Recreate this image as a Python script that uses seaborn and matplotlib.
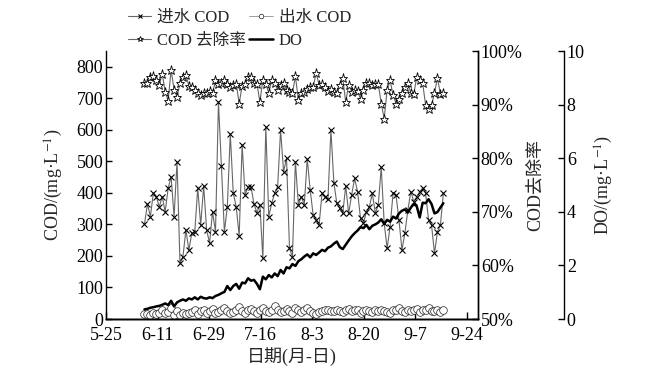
import numpy as np
import pandas as pd
import matplotlib
matplotlib.use("Agg")
import matplotlib.pyplot as plt
import matplotlib.dates as mdates
from matplotlib.ticker import FuncFormatter
import seaborn as sns

# -------------------- DATA --------------------
start_date = "2019-06-07"
tick_start = "2019-05-25"
tick_labels = ["5-25", "6-11", "6-29", "7-16", "8-3", "8-20", "9-7", "9-24"]

cod_in = [
    301, 365, 325, 400, 388, 356, 388, 340, 415, 451,
    325, 499, 178, 198, 282, 219, 272, 277, 415, 298,
    422, 282, 241, 340, 277, 689, 485, 277, 356, 587,
    399, 356, 263, 552, 393, 420, 420, 365, 337, 362,
    192, 610, 325, 367, 399, 420, 600, 467, 510, 224,
    198, 499, 362, 388, 362, 508, 409, 330, 314, 298,
    399, 388, 380, 600, 432, 367, 351, 335, 422, 335,
    393, 446, 404, 319, 304, 340, 356, 399, 335, 362,
    481, 304, 224, 293, 399, 393, 314, 219, 272, 346,
    404, 372, 388, 404, 415, 399, 314, 298, 208, 277,
    298, 399,
]

cod_out = [
    15, 17, 14, 18, 16, 20, 30, 18, 22, 35,
    12, 25, 14, 18, 16, 20, 22, 28, 15, 24,
    30, 18, 26, 32, 20, 22, 28, 35, 25, 18,
    22, 30, 38, 26, 20, 28, 32, 24, 18, 30,
    35, 26, 22, 30, 40, 28, 22, 26, 32, 24,
    20, 35, 28, 22, 30, 34, 26, 20, 16, 22,
    25, 28, 30, 26, 24, 30, 26, 22, 28, 32,
    24, 30, 28, 20, 24, 30, 26, 22, 28, 24,
    30, 26, 22, 20, 28, 30, 34, 24, 22, 30,
    26, 28, 32, 22, 30, 28, 34, 24, 26, 30,
    22, 28,
]

removal = [
    94.1, 94.0, 95.2, 95.3, 94.6, 93.7, 95.8, 92.4, 90.7, 96.5,
    92.8, 91.4, 94.0, 95.2, 95.5, 93.5, 93.2, 92.7, 92.1, 91.8,
    92.1, 92.1, 92.6, 92.1, 94.5, 93.9, 94.1, 94.5, 93.9, 93.2,
    93.7, 93.9, 90.2, 93.5, 93.9, 95.2, 95.1, 94.0, 93.9, 90.5,
    94.6, 93.9, 92.2, 94.5, 94.0, 92.7, 93.7, 94.0, 92.7, 92.4,
    92.1, 95.3, 90.9, 92.1, 92.4, 93.0, 93.3, 93.3, 95.9, 93.7,
    93.9, 93.3, 92.6, 93.0, 92.4, 92.1, 93.7, 94.9, 90.5, 93.7,
    92.4, 92.7, 92.6, 91.0, 92.8, 94.1, 94.0, 93.7, 93.9, 93.9,
    90.2, 87.4, 92.7, 94.5, 91.8, 90.2, 91.0, 92.1, 93.3, 94.1,
    92.1, 92.0, 95.1, 94.6, 94.0, 89.9, 89.1, 89.9, 92.2, 94.9,
    92.0, 92.2,
]

do = [
    0.36, 0.38, 0.42, 0.44, 0.47, 0.49, 0.53, 0.58, 0.52, 0.68,
    0.47, 0.62, 0.68, 0.73, 0.68, 0.77, 0.73, 0.81, 0.73, 0.83,
    0.78, 0.76, 0.81, 0.78, 0.86, 0.90, 0.96, 1.01, 1.23, 1.08,
    1.23, 1.31, 1.13, 1.36, 1.33, 1.52, 1.43, 1.46, 1.31, 1.11,
    1.58, 1.48, 1.64, 1.55, 1.70, 1.60, 1.83, 1.70, 1.93, 1.89,
    2.05, 1.98, 2.16, 2.23, 2.33, 2.41, 2.30, 2.45, 2.39, 2.48,
    2.58, 2.53, 2.66, 2.71, 2.81, 2.89, 2.68, 2.61, 2.77, 2.93,
    3.08, 3.20, 3.30, 3.43, 3.39, 3.51, 3.35, 3.48, 3.53, 3.60,
    3.72, 3.55, 3.70, 3.63, 3.82, 3.75, 3.94, 4.04, 4.09, 3.97,
    4.16, 4.29, 4.21, 3.79, 4.34, 4.32, 4.47, 4.29, 3.94, 3.99,
    4.16, 4.32,
]

dates = pd.date_range(start_date, periods=len(cod_in), freq="D")
df = pd.DataFrame({"date": dates, "cod_in": cod_in, "cod_out": cod_out,
                   "removal": removal, "do": do})

# -------------------- STYLE --------------------
sns.set_theme(style="ticks")
plt.rcParams["font.family"] = ["Liberation Serif", "Noto Sans CJK SC"]
plt.rcParams["mathtext.fontset"] = "stix"
plt.rcParams["axes.unicode_minus"] = True
plt.rcParams["font.size"] = 13

fig = plt.figure(figsize=(6.54, 3.82), dpi=100)
ax = fig.add_axes([106 / 654, 1 - 319 / 382, 372 / 654, 268 / 382])
ax2 = ax.twinx()
ax3 = ax.twinx()
ax3.spines["right"].set_position(("axes", 458 / 372))

# -------------------- LINES --------------------
sns.lineplot(data=df, x="date", y="cod_in", ax=ax, color="#666666", lw=0.8,
             marker="x", ms=5, mec="black", mew=0.8, label="进水 COD", legend=False)
sns.lineplot(data=df, x="date", y="cod_out", ax=ax, color="#777777", lw=0.5,
             marker="o", ms=5.5, mfc="white", mec="#222222", mew=0.5,
             label="出水 COD", legend=False)
sns.lineplot(data=df, x="date", y="removal", ax=ax2, color="#666666", lw=0.8,
             marker="*", ms=6.5, mfc="white", mec="black", mew=0.6,
             label="COD 去除率", legend=False)
sns.lineplot(data=df, x="date", y="do", ax=ax3, color="black", lw=1.8,
             label="DO", legend=False)

# -------------------- AXES --------------------
t0 = mdates.date2num(pd.Timestamp(tick_start))
ticks = t0 + np.linspace(0, 122, len(tick_labels))
ax.set_xlim(t0, t0 + 125.7)
ax.set_xticks(ticks)
ax.set_xticklabels(tick_labels)

ax.set_ylim(0, 850)
ax.set_yticks(np.arange(0, 801, 100))
ax2.set_ylim(50, 100)
ax2.set_yticks(np.arange(50, 101, 10))
ax2.yaxis.set_major_formatter(FuncFormatter(lambda v, p: f"{v:.0f}%"))
ax3.set_ylim(0, 10)
ax3.set_yticks(np.arange(0, 11, 2))

for a in (ax, ax2, ax3):
    a.spines["top"].set_visible(False)
    a.tick_params(direction="in", length=4, width=1, labelsize=13, pad=2,
                  colors="black")
    for s in a.spines.values():
        s.set_color("black")
        s.set_linewidth(1)
ax2.spines["left"].set_visible(False)
ax3.spines["left"].set_visible(False)
ax.tick_params(axis="x", length=5, pad=6)

ax.set_xlabel("日期(月-日)", fontsize=13, labelpad=2)
ax.set_ylabel("COD/(mg·L$^{-1}$)", fontsize=13, labelpad=8)
ax2.set_ylabel("COD去除率", fontsize=13, labelpad=3)
ax3.set_ylabel("DO/(mg·L$^{-1}$)", fontsize=13, labelpad=6)

# -------------------- LEGEND --------------------
handles, labels = [], []
for a in (ax, ax2, ax3):
    h, l = a.get_legend_handles_labels()
    handles += h
    labels += l
order = [0, 2, 1, 3]
fig.legend([handles[i] for i in order], [labels[i] for i in order],
           loc="upper left", bbox_to_anchor=(128 / 654, 1 - 10 / 382), ncol=2,
           frameon=False, fontsize=12, handlelength=1.4, handletextpad=0.35,
           columnspacing=0.2, labelspacing=0.4, borderaxespad=0, borderpad=0,
           markerscale=0.6)

fig.savefig("out.png", dpi=100)
